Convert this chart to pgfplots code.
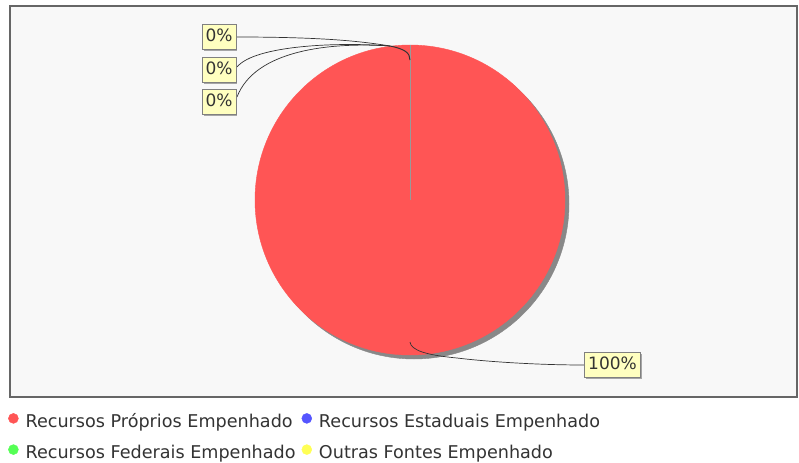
\documentclass[border=0pt]{standalone}
\usepackage{fontspec}
\setmainfont{DejaVu Sans}
\usepackage{pgfplots}
\pgfplotsset{compat=1.18}
\usepackage{pgfplotstable}
\usetikzlibrary{shadows}

\definecolor{pred}{HTML}{FF5555}
\definecolor{pblue}{HTML}{5555FF}
\definecolor{pgreen}{HTML}{55FF55}
\definecolor{pyellow}{HTML}{FFFF55}
\definecolor{plotbg}{HTML}{F8F8F8}
\definecolor{frame}{HTML}{666666}
\definecolor{lblbg}{HTML}{FFFFC0}
\definecolor{txt}{HTML}{333333}
\definecolor{pieshadow}{HTML}{888888}

% slice values (percent) and where their labels sit
\pgfplotstableread{
name      value  lx     ly
proprios  100    612.5  364.5
estaduais 0      219    37
federais  0      219    70
outras    0      219    102
}\slices

\begin{document}
\begin{tikzpicture}
\begin{axis}[
  scale only axis, width=799bp, height=463bp,
  xmin=0, xmax=799, ymin=0, ymax=463, y dir=reverse,
  hide axis, clip=false, clip mode=individual,
  legend style={at={(axis cs:8,413)}, anchor=north west, draw=none, fill=none,
    font=\fontsize{17.6bp}{20bp}\selectfont, text=txt, inner sep=0pt,
    legend columns=2, row sep=13bp,
    nodes={inner xsep=0bp, inner ysep=0bp, text height=13bp, text depth=4bp},
    /tikz/every odd column/.append style={column sep=7bp},
    /tikz/every even column/.append style={column sep=6bp}},
  legend cell align=left,
  legend image code/.code={\fill[#1] (5bp,4.5bp) circle (5bp);},
]
\path[fill=white] (axis cs:0,0) rectangle (axis cs:799,463);
\path[fill=plotbg, draw=frame, line width=1.2bp] (axis cs:10,6) rectangle (axis cs:797,397);

% pie: shadow, then the single full slice
\addplot[color=pieshadow, only marks, mark=*, mark size=155bp, forget plot]
  coordinates {(414,204)};
\addplot[color=pred, only marks, mark=*, mark size=155bp, forget plot]
  coordinates {(410,200)};
\addplot[color=gray!80, line width=1bp, mark=none, forget plot] coordinates {(410,200)(410,45)};

% label links
\draw[txt, line width=0.7bp] (axis cs:236,37) .. controls (axis cs:320,37) and (axis cs:360,41) .. (axis cs:390,46);
\draw[txt, line width=0.7bp] (axis cs:237,67) .. controls (axis cs:255,45) and (axis cs:340,42) .. (axis cs:390,46);
\draw[txt, line width=0.7bp] (axis cs:237,97) .. controls (axis cs:255,50) and (axis cs:330,42) .. (axis cs:390,46);
\draw[txt, line width=1bp] (axis cs:390,46) .. controls (axis cs:405,49) and (axis cs:410,53) .. (axis cs:410,60);
\draw[txt, line width=0.7bp] (axis cs:410,342) .. controls (axis cs:411,350) and (axis cs:425,355) .. (axis cs:457,358)
  .. controls (axis cs:490,362) and (axis cs:540,365) .. (axis cs:584,365);

% percentage labels
\addplot[draw=none, mark=none, forget plot,
  nodes near coords={\pgfplotspointmeta\%},
  point meta=explicit symbolic,
  every node near coord/.style={anchor=center, fill=lblbg, draw=gray, line width=0.6bp,
    text=txt, font=\fontsize{17bp}{20bp}\selectfont,
    inner xsep=3.5bp, inner ysep=4bp, text height=13bp, text depth=4bp,
    drop shadow={shadow xshift=1.5bp, shadow yshift=-1.5bp, fill=gray!70, opacity=1}},
] table[x=lx, y=ly, meta=value] {\slices};

\addlegendimage{pred}
\addlegendentry{Recursos Próprios Empenhado}
\addlegendimage{pblue}
\addlegendentry{Recursos Estaduais Empenhado}
\addlegendimage{pgreen}
\addlegendentry{Recursos Federais Empenhado}
\addlegendimage{pyellow}
\addlegendentry{Outras Fontes Empenhado}
\end{axis}
\end{tikzpicture}
\end{document}
